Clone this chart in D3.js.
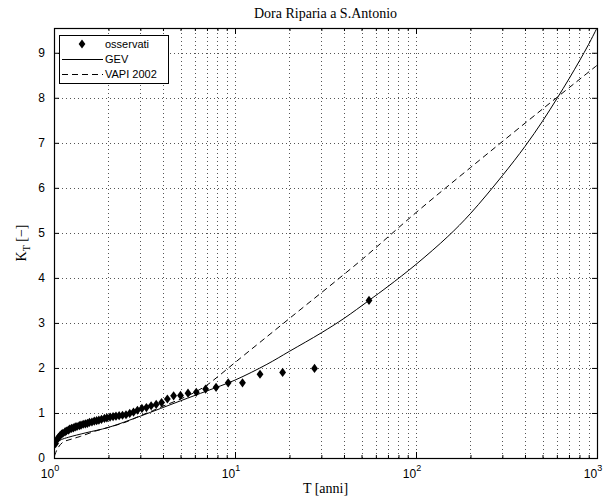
<!DOCTYPE html>
<html>
  <head>
    <title>Dora Riparia a S.Antonio</title>
    <script src="https://d3js.org/d3.v7.min.js"></script>
    <style>
      body { margin: 0; background: #fff; }
      .tick text { font-family: "Liberation Sans", Arial, sans-serif; font-size: 12px; }
      .serif { font-family: "Liberation Serif", "Times New Roman", serif; font-size: 14px; }
      .legend text { font-family: "Liberation Sans", Arial, sans-serif; font-size: 11px; }
    </style>
  </head>
  <body>
    <script>
      // observed values (plotting positions)
      var obsT = [55, 27.5, 18.33, 13.75, 11, 9.17, 7.86, 6.88, 6.11, 5.5, 5, 4.58, 4.23, 3.93, 3.67, 3.44, 3.24, 3.06,
        2.89, 2.75, 2.62, 2.5, 2.39, 2.29, 2.2, 2.12, 2.04, 1.96, 1.9, 1.83, 1.77, 1.72, 1.67, 1.62, 1.57, 1.53,
        1.49, 1.45, 1.41, 1.38, 1.34, 1.31, 1.28, 1.25, 1.22, 1.2, 1.17, 1.15, 1.12, 1.1, 1.08, 1.06, 1.04, 1.02];
      var obsK = [3.50, 1.99, 1.90, 1.86, 1.67, 1.67, 1.57, 1.53, 1.46, 1.44, 1.39, 1.38, 1.31, 1.23, 1.19, 1.16, 1.12, 1.10,
        1.06, 1.02, 0.99, 0.96, 0.95, 0.94, 0.93, 0.92, 0.91, 0.89, 0.88, 0.86, 0.84, 0.83, 0.82, 0.80, 0.79, 0.77,
        0.76, 0.75, 0.73, 0.72, 0.70, 0.69, 0.67, 0.66, 0.64, 0.62, 0.60, 0.58, 0.55, 0.53, 0.50, 0.46, 0.41, 0.32];

      // GEV curve
      var gevT = [1.005, 1.02, 1.05, 1.1, 1.2, 1.5, 2, 3, 5, 7, 10, 15, 20, 30, 40, 55, 70, 100, 150, 200, 300, 400, 500, 600, 700, 800, 900, 1000];
      var gevK = [0.26, 0.31, 0.36, 0.41, 0.46, 0.56, 0.68, 0.93, 1.27, 1.49, 1.73, 2.08, 2.37, 2.78, 3.1, 3.5, 3.81, 4.30, 4.92, 5.43, 6.27, 6.92, 7.48, 7.98, 8.42, 8.82, 9.19, 9.55];

      // VAPI 2002 curve
      var vapiT = [1.005, 1.05, 1.12, 1.25, 1.4, 1.7, 2, 2.5, 3, 3.5, 4, 5, 6, 7, 8, 10, 20, 50, 100, 200, 500, 1000];
      var vapiK = [0.04, 0.22, 0.35, 0.42, 0.48, 0.6, 0.68, 0.8, 0.94, 1.05, 1.15, 1.31, 1.46, 1.62, 1.8, 2.12, 3.1, 4.4, 5.45, 6.45, 7.75, 8.72];

      var yTicks = [0, 1, 2, 3, 4, 5, 6, 7, 8, 9];
      var xMajor = [1, 10, 100, 1000];

      var width = 616, height = 500;
      var margin = {top: 28, left: 54, right: 19, bottom: 42};

      var svg = d3.select("body").append("svg")
        .attr("width", width)
        .attr("height", height);

      var x = d3.scaleLog().domain([1, 1000]).range([margin.left, width - margin.right]);
      var y = d3.scaleLinear().domain([0, 9.55]).range([height - margin.bottom, margin.top]);

      var x0 = margin.left, x1 = width - margin.right, y0 = height - margin.bottom, y1 = margin.top;

      // minor positions for log grid
      var xMinor = [];
      [1, 10, 100].forEach(function(d) {
        for (var m = 2; m <= 9; m++) xMinor.push(d * m);
      });
      var xGrid = xMinor.concat([10, 100]);

      var grid = svg.append("g").attr("stroke", "#555").attr("stroke-width", 1).attr("stroke-dasharray", "1,3");
      grid.selectAll(".gx").data(xGrid).enter().append("line")
        .attr("x1", function(d) { return Math.round(x(d)) + 0.5; })
        .attr("x2", function(d) { return Math.round(x(d)) + 0.5; })
        .attr("y1", y0).attr("y2", y1);
      grid.selectAll(".gy").data(yTicks.slice(1)).enter().append("line")
        .attr("x1", x0).attr("x2", x1)
        .attr("y1", function(d) { return Math.round(y(d)) + 0.5; })
        .attr("y2", function(d) { return Math.round(y(d)) + 0.5; });

      // axes with inward ticks
      var yAxis = svg.append("g")
        .attr("transform", "translate(" + x0 + ",0)")
        .call(d3.axisLeft(y).tickValues(yTicks).tickSizeInner(-5).tickSizeOuter(0).tickPadding(9));
      yAxis.select(".domain").remove();

      svg.append("g")
        .attr("transform", "translate(" + x1 + ",0)")
        .call(d3.axisRight(y).tickValues(yTicks).tickSizeInner(-5).tickSizeOuter(0).tickFormat(""))
        .select(".domain").remove();

      var xAxis = svg.append("g")
        .attr("transform", "translate(0," + y0 + ")")
        .call(d3.axisBottom(x).tickValues(xMajor).tickSizeInner(-6).tickSizeOuter(0).tickFormat(""));
      xAxis.select(".domain").remove();
      svg.append("g")
        .attr("transform", "translate(0," + y0 + ")")
        .call(d3.axisBottom(x).tickValues(xMinor).tickSizeInner(-3).tickSizeOuter(0).tickFormat(""))
        .select(".domain").remove();
      svg.append("g")
        .attr("transform", "translate(0," + y1 + ")")
        .call(d3.axisTop(x).tickValues(xMajor).tickSizeInner(-6).tickSizeOuter(0).tickFormat(""))
        .select(".domain").remove();
      svg.append("g")
        .attr("transform", "translate(0," + y1 + ")")
        .call(d3.axisTop(x).tickValues(xMinor).tickSizeInner(-3).tickSizeOuter(0).tickFormat(""))
        .select(".domain").remove();

      // x tick labels as 10^k
      var xl = svg.append("g").attr("class", "tick");
      xMajor.forEach(function(d) {
        var t = xl.append("text")
          .attr("x", x(d) - 4)
          .attr("y", y0 + 20)
          .attr("text-anchor", "middle")
          .attr("fill", "#000");
        t.append("tspan").text("10");
        t.append("tspan").attr("dy", -7).style("font-size", "9px").text(Math.round(Math.log10(d)));
      });

      // box
      svg.append("rect")
        .attr("x", x0 + 0.5).attr("y", y1 + 0.5)
        .attr("width", x1 - x0).attr("height", y0 - y1)
        .attr("fill", "none").attr("stroke", "#000").attr("stroke-width", 1.2);

      svg.append("clipPath").attr("id", "clip").append("rect")
        .attr("x", x0).attr("y", y1 - 1).attr("width", x1 - x0 + 1).attr("height", y0 - y1 + 1);

      var line = d3.line()
        .x(function(d) { return x(d[0]); })
        .y(function(d) { return y(d[1]); })
        .curve(d3.curveCatmullRom.alpha(0.5));

      var plot = svg.append("g").attr("clip-path", "url(#clip)");

      plot.append("path")
        .datum(d3.zip(gevT, gevK))
        .attr("d", line)
        .attr("fill", "none").attr("stroke", "#000").attr("stroke-width", 1);

      plot.append("path")
        .datum(d3.zip(vapiT, vapiK))
        .attr("d", line)
        .attr("fill", "none").attr("stroke", "#000").attr("stroke-width", 1)
        .attr("stroke-dasharray", "6,4");

      var diamond = {
        draw: function(ctx, size) {
          ctx.moveTo(0, -4.6);
          ctx.lineTo(3.4, 0);
          ctx.lineTo(0, 4.6);
          ctx.lineTo(-3.4, 0);
          ctx.closePath();
        }
      };

      plot.selectAll(".obs")
        .data(d3.zip(obsT, obsK))
        .enter().append("path")
          .attr("class", "obs")
          .attr("transform", function(d) { return "translate(" + x(d[0]) + "," + y(d[1]) + ")"; })
          .attr("d", d3.symbol().type(diamond))
          .attr("fill", "#000");

      // legend
      var lg = svg.append("g").attr("class", "legend");
      lg.append("rect")
        .attr("x", 59.5).attr("y", 35.5).attr("width", 109).attr("height", 48)
        .attr("fill", "#fff").attr("stroke", "#000").attr("stroke-width", 1);
      lg.append("path")
        .attr("transform", "translate(82,44)")
        .attr("d", d3.symbol().type(diamond))
        .attr("fill", "#000");
      lg.append("line").attr("x1", 62).attr("x2", 103).attr("y1", 59.5).attr("y2", 59.5)
        .attr("stroke", "#000");
      lg.append("line").attr("x1", 62).attr("x2", 103).attr("y1", 74.5).attr("y2", 74.5)
        .attr("stroke", "#000").attr("stroke-dasharray", "6,4");
      var names = ["osservati", "GEV", "VAPI 2002"];
      lg.selectAll(".lt").data(names).enter().append("text")
        .attr("x", 105)
        .attr("y", function(d, i) { return 48 + i * 15; })
        .text(function(d) { return d; });

      // title and labels
      svg.append("text").attr("class", "serif")
        .attr("x", (x0 + x1) / 2).attr("y", 18)
        .attr("text-anchor", "middle")
        .text("Dora Riparia a S.Antonio");

      svg.append("text").attr("class", "serif")
        .attr("x", (x0 + x1) / 2).attr("y", 493)
        .attr("text-anchor", "middle")
        .text("T [anni]");

      var yl = svg.append("text").attr("class", "serif")
        .attr("transform", "translate(26," + ((y0 + y1) / 2) + ") rotate(-90)")
        .attr("text-anchor", "middle");
      yl.append("tspan").text("K");
      yl.append("tspan").attr("dy", 4).style("font-size", "10px").text("T");
      yl.append("tspan").attr("dy", -4).text(" [\u2212]");
    </script>
  </body>
</html>
